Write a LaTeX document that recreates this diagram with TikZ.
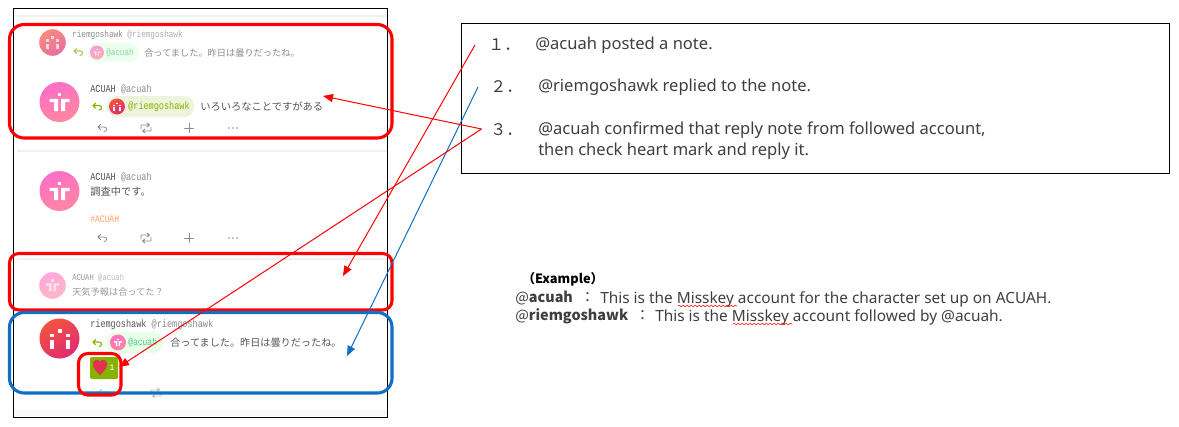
\documentclass[tikz,border=0pt]{standalone}
\usepackage{fontspec}
\usepackage{xcolor}
\usepackage{graphicx}
\usetikzlibrary{arrows.meta,decorations.pathmorphing}
\setmainfont{Noto Sans}
\newfontfamily\jp{Noto Sans CJK JP}
\newfontfamily\nm{Liberation Mono}
\newcommand\tall[1]{\scalebox{1}[1.25]{#1}}
\definecolor{redbox}{HTML}{FF0000}
\definecolor{bluebox}{HTML}{0F6FC6}
\definecolor{txt}{HTML}{555555}
\definecolor{handle}{HTML}{8A8A8A}
\definecolor{gcol}{HTML}{86B300}
\definecolor{tcol}{HTML}{3F3F3F}
\definecolor{apink}{HTML}{FF6EC7}
\definecolor{apeach}{HTML}{FF88A0}
\definecolor{rorange}{HTML}{F4533F}
\definecolor{rrose}{HTML}{E02B72}
\definecolor{heartc}{HTML}{E0344E}
\definecolor{tagc}{HTML}{FFA264}
\definecolor{mentc}{HTML}{4CC98A}
\tikzset{
  redframe/.style={draw=redbox,line width=2.3pt,rounded corners=11pt},
  blueframe/.style={draw=bluebox,line width=2.3pt,rounded corners=11pt},
  redline/.style={draw=redbox,line width=.75pt,-{Triangle[length=7.5pt,width=6pt]}},
  blueline/.style={draw=bluebox,line width=.75pt,-{Triangle[length=7.5pt,width=6pt]}},
  txtl/.style={anchor=west,inner sep=0pt,text=txt},
  boxtxt/.style={txtl,text=tcol,font=\fontsize{12.4}{14}\selectfont},
  extxt/.style={txtl,text=tcol,font=\fontsize{11.55}{13}\selectfont},
  exb/.style={txtl,text=tcol,font=\jp\fontsize{10.8}{13}\selectfont},
  jptxt/.style={txtl,font=\jp\fontsize{7.6}{9}\selectfont},
  nametxt/.style={txtl,font=\nm\fontsize{6.4}{9}\selectfont},
  sep/.style={draw=black!6,line width=1.2pt},
  act/.style={draw=black!45,line width=.6pt,line cap=round,line join=round},
  reply/.style={draw=gcol,line width=.8pt,line cap=round,line join=round},
}
\newcommand\acuahavatar[3]{%
  \shade[left color=apink,right color=apeach,shading angle=20] (#1,#2) circle [radius=#3];
  \begin{scope}[shift={(#1,#2)},scale=#3/20]
    \fill[white] (-1.7,-9.5) rectangle (1.7,-6);
    \fill[white] (-10,-3.2) -- (-1.5,-3.2) -- (-1.5,9) -- (-5.5,9) -- (-5.5,0) -- (-10,0) -- cycle;
    \fill[white] (10,-3.2) -- (1.5,-3.2) -- (1.5,9) -- (5.5,9) -- (5.5,0) -- (10,0) -- cycle;
  \end{scope}}
\newcommand\riemavatar[3]{%
  \shade[left color=rorange,right color=rrose,shading angle=30] (#1,#2) circle [radius=#3];
  \begin{scope}[shift={(#1,#2)},scale=#3/20]
    \fill[white] (-2,-10) rectangle (2,-6);
    \fill[white] (-10,-5) rectangle (-6,-1.5);
    \fill[white] (6,-5) rectangle (10,-1.5);
    \fill[white] (-10,1.5) rectangle (-6,10);
    \fill[white] (6,1.5) rectangle (10,10);
  \end{scope}}
\newcommand\replyicon[3]{\draw[#3,shift={(#1,#2)}] (-1.5,-3.5) -- (-4,-1) -- (-1.5,1.5) (-4,-1) -- (2,-1) .. controls (4,-1) and (4.5,0) .. (4.5,1) .. controls (4.5,2.5) and (3.5,3.5) .. (2,3.5);}
\newcommand\rticon[2]{\draw[act,shift={(#1,#2)}] (-5,1) -- (-5,-3) -- (3,-3) (1,-5) -- (3.5,-3) -- (1,-1) (5,-1) -- (5,3) -- (-3,3) (-1,1) -- (-3.5,3) -- (-1,5);}
\newcommand\plusicon[2]{\draw[act,shift={(#1,#2)}] (-4.5,0) -- (4.5,0) (0,-4.5) -- (0,4.5);}
\newcommand\dotsicon[2]{\fill[black!45,shift={(#1,#2)}] (-4,0) circle [radius=.9] (0,0) circle [radius=.9] (4,0) circle [radius=.9];}
\newcommand\actions[1]{\replyicon{102}{#1}{act}\rticon{146}{#1}\plusicon{189}{#1}\dotsicon{233}{#1}}
\begin{document}
\begin{tikzpicture}[x=.75pt,y=-.75pt]
\useasboundingbox (0,0) rectangle (1179,426);
\fill[white] (0,0) rectangle (1179,426);
% screenshot panel
\fill[black!3] (15,410) rectangle (387,416);
\draw[sep] (17,16) -- (387,16);
\draw[sep] (17,151) -- (387,151);
\draw[sep] (17,259) -- (387,259);
\draw[black,line width=.75pt] (13.5,8.5) rectangle (387.5,417);
% faded top note
\begin{scope}[opacity=.68]
  \riemavatar{52.5}{42.5}{13.3}
  \node[nametxt,font=\nm\fontsize{5.75}{8}\selectfont] (n1) at (72,35) {\tall{riemgoshawk {\color{handle}@riemgoshawk}}};
  \replyicon{78}{52}{reply}
  \fill[green!10,rounded corners=7pt] (88,43) rectangle (139,62);
  \acuahavatar{97}{52.5}{7}
  \node[nametxt,text=mentc,font=\nm\fontsize{5.7}{8}\selectfont] (n2) at (106,53) {\tall{@acuah}};
  \node[jptxt,font=\jp\fontsize{6.9}{9}\selectfont] (n3) at (144,53) {合ってました。昨日は曇りだったね。};
\end{scope}
% ACUAH reply
\acuahavatar{59.5}{102}{20}
\node[nametxt] (n4) at (90,89) {\tall{ACUAH {\color{handle}@acuah}}};
\replyicon{97}{106.5}{reply}
\fill[gcol!14,rounded corners=7pt] (107,96) rectangle (194,117);
\riemavatar{117}{106.5}{8}
\node[nametxt,text=gcol] (n5) at (128,107) {\tall{@riemgoshawk}};
\node[jptxt,font=\jp\fontsize{7.7}{9}\selectfont] (n6) at (200,106.5) {いろいろなことですがある};
\actions{128}
% ACUAH note
\acuahavatar{59.5}{191}{20}
\node[nametxt] (n7) at (90,177) {\tall{ACUAH {\color{handle}@acuah}}};
\node[jptxt,font=\jp\fontsize{7.7}{9}\selectfont] (n8) at (90,192) {調査中です。};
\node[txtl,text=tagc,font=\nm\fontsize{6}{9}\selectfont] (n9) at (90,219) {\tall{\#ACUAH}};
\actions{238}
% faded ACUAH
\begin{scope}[opacity=.6]
  \acuahavatar{52.5}{285.5}{13.3}
  \node[nametxt,font=\nm\fontsize{5.4}{8}\selectfont] (n10) at (72,278) {\tall{ACUAH {\color{handle}@acuah}}};
  \node[jptxt,font=\jp\fontsize{6.9}{9}\selectfont] (n11) at (72,292.5) {天気予報は合ってた？};
\end{scope}
% riemgoshawk reply
\riemavatar{59.5}{338.5}{20}
\node[nametxt] (n12) at (90,325) {\tall{riemgoshawk {\color{handle}@riemgoshawk}}};
\replyicon{97}{343}{reply}
\fill[green!9,rounded corners=7pt] (107,332) rectangle (163,353);
\acuahavatar{118}{342.5}{8}
\node[nametxt,text=mentc,font=\nm\fontsize{6}{8}\selectfont] (n13) at (128,343) {\tall{@acuah}};
\node[jptxt] (n14) at (170,343) {合ってました。昨日は曇りだったね。};
\fill[gcol,rounded corners=1.5pt] (90,357) rectangle (118,379);
\fill[heartc] (100,375) .. controls (94,370) and (92.5,366) .. (93,363) .. controls (93.5,359.5) and (98,358.5) .. (100,361.5) .. controls (102,358.5) and (106.5,359.5) .. (107,363) .. controls (107.5,366) and (106,370) .. (100,375) -- cycle;
\node[inner sep=0pt,text=white,font=\nm\fontsize{6.5}{8}\selectfont] (n15) at (112,368) {1};
\begin{scope}[opacity=.6]
\replyicon{103}{393}{act}
\rticon{156}{393}
\end{scope}
% highlight frames
\draw[redframe] (9.5,24.5) rectangle (392,138);
\draw[redframe,rounded corners=7pt] (9.5,253.5) rectangle (392,310);
\draw[blueframe] (9.5,312.5) rectangle (392,393);
\draw[redframe,rounded corners=7pt] (78.5,353.5) rectangle (121,395);
% explanation box
\draw[black,line width=.75pt] (461.5,23.5) rectangle (1169.5,173);
\node[txtl,text=tcol,font=\jp\fontsize{12}{14}\selectfont] (s1) at (488,45) {１．};
\node[boxtxt] (t1) at (535,45.5) {@acuah posted a note.};
\node[txtl,text=tcol,font=\jp\fontsize{12}{14}\selectfont] (s2) at (490,87) {２．};
\node[boxtxt] (t2) at (538,87.5) {@riemgoshawk replied to the note.};
\node[txtl,text=tcol,font=\jp\fontsize{12}{14}\selectfont] (s3) at (490,130) {３．};
\node[boxtxt] (t3) at (538,130.5) {@acuah confirmed that reply note from followed account,};
\node[boxtxt] (t4) at (538,151.5) {then check heart mark and reply it.};
% connectors
\coordinate (c1) at (475,45);
\coordinate (c1e) at (343,276);
\coordinate (c2) at (478,87);
\coordinate (c2e) at (347,356);
\coordinate (c3) at (481.5,129);
\coordinate (c3a) at (323,96);
\coordinate (c3b) at (119,367);
\draw[redline] (c1) -- (c1e);
\draw[blueline] (c2) -- (c2e);
\draw[redline] (c3) -- (c3a);
\draw[redline] (c3) -- (c3b);
% example
\node[txtl,text=black,font=\jp\bfseries\fontsize{9.6}{12}\selectfont] (e0) at (522,279) {（Example）};
\node[exb] (e1) at (515,298) {@{\bfseries acuah}};
\node[exb] (e1c) at (580,297) {：};
\node[extxt] (e1t) at (600,299) {This is the Misskey account for the character set up on ACUAH.};
\node[exb] (e2) at (515,316) {@{\bfseries riemgoshawk}};
\node[exb] (e2c) at (635,315) {：};
\node[extxt] (e2t) at (655,317) {This is the Misskey account followed by @acuah.};
\draw[red,line width=.4pt,decorate,decoration={snake,segment length=3pt,amplitude=.6pt}] (678,306) -- (737,306);
\draw[red,line width=.4pt,decorate,decoration={snake,segment length=3pt,amplitude=.6pt}] (733,324) -- (792,324);
\end{tikzpicture}
\end{document}
